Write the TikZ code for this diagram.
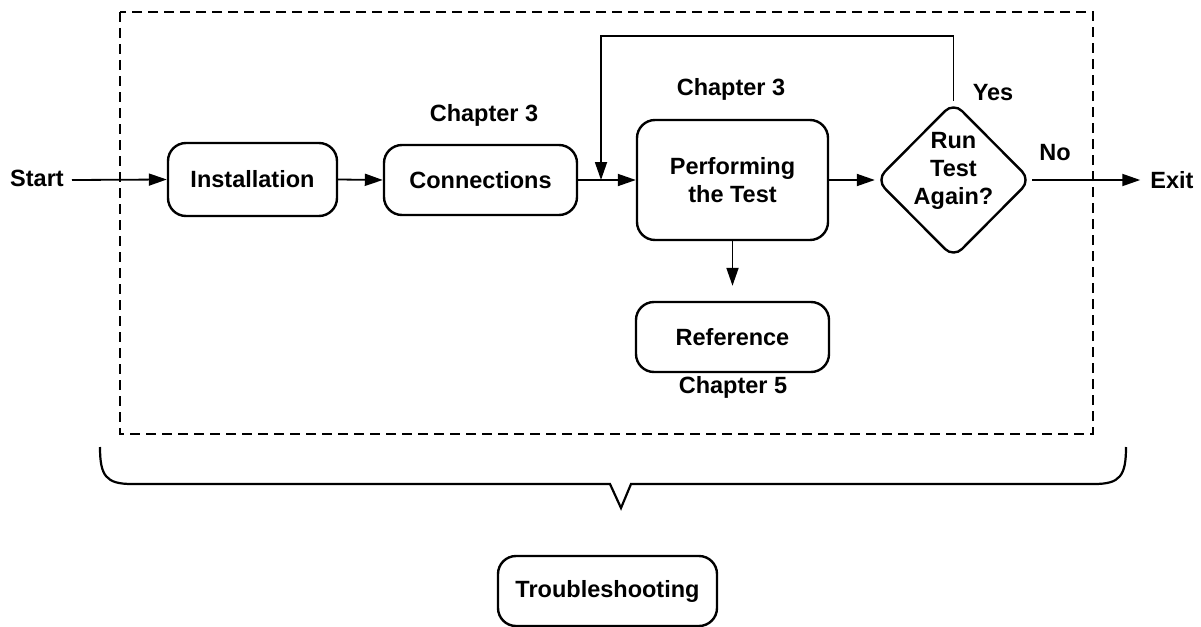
\documentclass[tikz,border=0pt]{standalone}
\usepackage{fontspec}
\setmainfont{Liberation Sans}
\usetikzlibrary{shapes.geometric,arrows.meta}
\begin{document}
\begin{tikzpicture}[x=1pt,y=-1pt,
  every node/.style={font=\fontsize{23.5}{28}\selectfont\bfseries, inner sep=0pt},
  box/.style={draw, line width=2.4pt, rounded corners=18pt, align=center},
  arr/.style={line width=1.8pt, -{Triangle[length=18pt,width=12pt]}},
  lbl/.style={align=center}]
\useasboundingbox (0,0) rectangle (1201,626);
% dashed frame
\draw[line width=1.6pt, dash pattern=on 10pt off 6pt] (120,12) rectangle (1093,434);
% nodes
\node[lbl] (start) at (37,178) {Start};
\node[box, minimum width=169pt, minimum height=73pt] (inst) at (252.5,179.5) {Installation};
\node[box, minimum width=193pt, minimum height=70pt] (conn) at (480.5,180) {Connections};
\node[box, minimum width=191pt, minimum height=120pt] (perf) at (732.5,180) {Performing\\the Test};
\node[box, minimum width=193pt, minimum height=70pt] (ref) at (732.5,337) {Reference};
\node[draw, diamond, line width=2.4pt, rounded corners=12pt, minimum width=155pt, minimum height=156pt, inner sep=0pt] (dec) at (953.5,180) {};
\node[lbl] (dectext) at (953.5,171) {Run\\Test\\Again?};
\node[lbl] (exit) at (1172,180) {Exit};
\node[box, minimum width=219pt, minimum height=70pt] (trouble) at (607.5,591) {Troubleshooting};
% labels
\node[lbl] (c3a) at (484,115) {Chapter 3};
\node[lbl] (c3b) at (731,89) {Chapter 3};
\node[lbl] (c5) at (733,387) {Chapter 5};
\node[lbl] (yes) at (993,93) {Yes};
\node[lbl] (no) at (1055,153) {No};
% connectors
\draw[arr] (72,180) coordinate (s0) -- (inst.west);
\draw[arr] (inst.east) -- (conn.west);
\draw[arr] (conn.east) -- (perf.west);
\draw[arr] (perf.east) -- (dec.west);
\draw[arr, shorten >=10pt] (dec.east) -- (exit.west);
\coordinate (fbtop) at (601,36);
\coordinate (fbend) at (601,180);
\draw[arr] (dec.north) |- (fbtop) -- (fbend);
\draw[arr, shorten >=15pt] (perf.south) -- (ref.north);
% brace
\draw[line width=2.2pt, line join=miter]
  (100,447) .. controls (100,476) and (106,484) .. (132,484)
  -- (610,484) -- (621,508) -- (631,484) -- (1094,484)
  .. controls (1120,484) and (1126,476) .. (1126,447);
\end{tikzpicture}
\end{document}
